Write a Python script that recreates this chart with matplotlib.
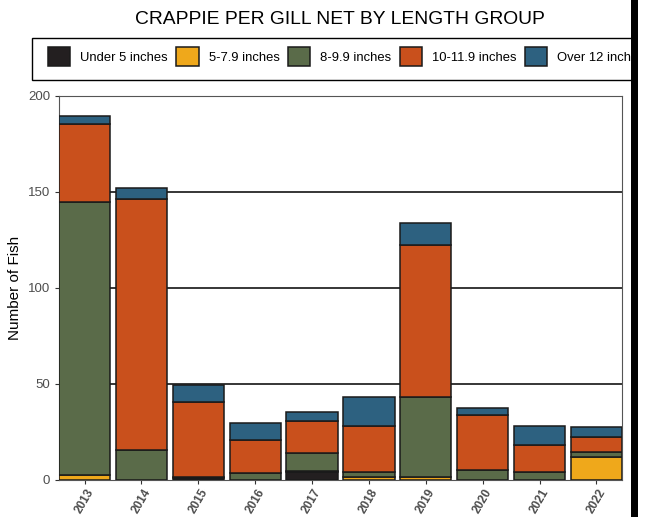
import numpy as np
import matplotlib
matplotlib.use("Agg")
import matplotlib.pyplot as plt
from matplotlib.patches import Rectangle

plt.rcParams['font.family'] = ['Liberation Sans', 'DejaVu Sans']

years = ["2013", "2014", "2015", "2016", "2017", "2018", "2019", "2020", "2021", "2022"]
groups = ["Under 5 inches", "5-7.9 inches", "8-9.9 inches", "10-11.9 inches", "Over 12 inches"]
colors = ["#231F20", "#EFA81B", "#5A6B49", "#C9501C", "#2D6180"]

under5 = [0, 0, 1.0, 0, 4.0, 0, 0, 0, 0, 0]
len5_79 = [2.5, 0, 0, 0, 0.8, 1.4, 1.4, 0, 0, 12.2]
len8_99 = [142.5, 15.6, 0.5, 3.5, 9.2, 2.9, 42.0, 5.0, 4.0, 2.2]
len10_119 = [40.5, 130.8, 39.3, 17.3, 16.5, 23.7, 79.0, 29.0, 14.0, 8.2]
over12 = [4.0, 5.6, 8.7, 8.7, 5.1, 15.0, 11.5, 3.3, 10.0, 4.9]

series = [under5, len5_79, len8_99, len10_119, over12]

fig = plt.figure(figsize=(6.46, 5.17), dpi=100)
ax = fig.add_axes([59 / 646, 1 - 480 / 517, 563 / 646, 384 / 517])

x = np.arange(len(years))
bottom = np.zeros(len(years))
handles = []
for vals, col, name in zip(series, colors, groups):
    vals = np.array(vals)
    h = ax.bar(x, vals, 0.9, bottom=bottom, color=col, edgecolor="#1a1a1a",
               linewidth=1.1, label=name, zorder=3)
    handles.append(h)
    bottom += vals

ax.set_xlim(-0.45, len(years) - 0.55)
ax.set_ylim(0, 200)
ax.set_yticks([0, 50, 100, 150, 200])
for yv in [50, 100, 150]:
    ax.axhline(yv, color="black", lw=1.1, zorder=1)

ax.set_xticks(x)
ax.set_xticklabels(years, rotation=60, fontweight="bold", fontsize=8.5,
                   color="#4D4D4D", ha="center", va="top")
ax.tick_params(axis="y", labelsize=9.5, labelcolor="#4D4D4D", color="#333333", length=3)
ax.tick_params(axis="x", color="#333333", length=3, pad=2)
for s in ax.spines.values():
    s.set_color("#555555")
    s.set_linewidth(0.8)
ax.set_ylabel("Number of Fish", fontsize=11, labelpad=4)

fig.text(340 / 646, 1 - 20 / 517, "CRAPPIE PER GILL NET BY LENGTH GROUP",
         ha="center", va="center", fontsize=13.9)

# legend box runs past the right edge of the picture
fig.patches.append(Rectangle((32 / 646, 1 - 80 / 517), 620 / 646, 42 / 517,
                             transform=fig.transFigure, facecolor="white",
                             edgecolor="black", linewidth=1.0, zorder=2))
leg = fig.legend(handles=handles, labels=groups, ncol=5, loc="upper left",
                 bbox_to_anchor=(48 / 646, 1 - 47 / 517), frameon=False,
                 fontsize=9.4, handlelength=1.7, handleheight=1.9, handletextpad=0.77,
                 columnspacing=0.65, borderpad=0, borderaxespad=0)
leg.set_zorder(5)

# dark strip and blank margin on the right edge
fig.patches.append(Rectangle((631 / 646, 0), 7 / 646, 1, transform=fig.transFigure,
                             facecolor="black", edgecolor="none", zorder=10))
fig.patches.append(Rectangle((638 / 646, 0), 8 / 646, 1, transform=fig.transFigure,
                             facecolor="white", edgecolor="none", zorder=10))

fig.savefig("out.png", dpi=100)
